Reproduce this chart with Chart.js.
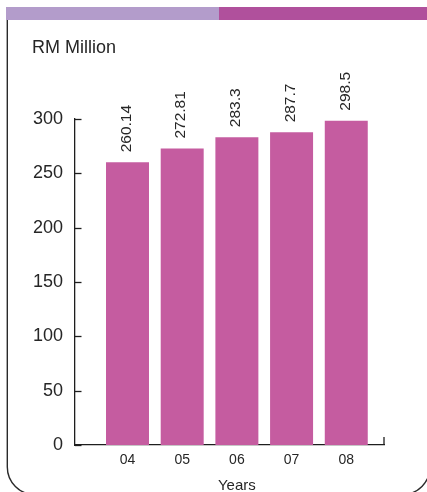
<!DOCTYPE html>
<html>
<head>
<meta charset="utf-8">
<script src="https://cdn.jsdelivr.net/npm/chart.js@4/dist/chart.umd.min.js"></script>
<style>
html,body{margin:0;padding:0;background:#fff;}
#wrap{position:relative;width:427px;height:492px;}
</style>
</head>
<body>
<div id="wrap"><canvas id="c" width="427" height="492"></canvas></div>
<script>
const years = ['04', '05', '06', '07', '08'];
const revenue = [260.14, 272.81, 283.3, 287.7, 298.5];
const valueLabels = ['260.14', '272.81', '283.3', '287.7', '298.5'];
const yTicks = [0, 50, 100, 150, 200, 250, 300];
const unitLabel = 'RM Million';
const xTitle = 'Years';

const TEXT = '#262626';
const AXIS = '#1e1e1e';
const FONT = '"Liberation Sans", Arial, Helvetica, sans-serif';

const decor = {
  id: 'decor',
  beforeDraw(chart) {
    const ctx = chart.ctx;
    ctx.save();
    ctx.fillStyle = '#b39ccb';
    ctx.fillRect(6, 7, 213, 13);
    ctx.fillStyle = '#b0509c';
    ctx.fillRect(219, 7, 208, 13);
    ctx.strokeStyle = '#2a2a2a';
    ctx.lineWidth = 1.4;
    const L = 7.3, T = 20, R = 430, B = 494.5, r = 27.5;
    ctx.beginPath();
    ctx.moveTo(L, T);
    ctx.lineTo(L, B - r);
    ctx.arcTo(L, B, L + r, B, r);
    ctx.lineTo(R - r, B);
    ctx.arcTo(R, B, R, B - r, r);
    ctx.lineTo(R, T);
    ctx.stroke();
    ctx.fillStyle = TEXT;
    ctx.font = '18px ' + FONT;
    ctx.textAlign = 'left';
    ctx.textBaseline = 'alphabetic';
    ctx.fillText(unitLabel, 32, 53);
    ctx.restore();
  },
  afterDraw(chart) {
    const ctx = chart.ctx;
    const xs = chart.scales.x, ys = chart.scales.y;
    const area = chart.chartArea;
    ctx.save();
    ctx.strokeStyle = AXIS;
    ctx.lineWidth = 1.3;
    ys.ticks.forEach(t => {
      const py = Math.round(ys.getPixelForValue(t.value)) + 0.5;
      ctx.beginPath();
      ctx.moveTo(area.left, py);
      ctx.lineTo(area.left + 6.5, py);
      ctx.stroke();
    });
    ctx.beginPath();
    ctx.moveTo(area.right, area.bottom);
    ctx.lineTo(area.right, area.bottom - 8);
    ctx.stroke();
    const meta = chart.getDatasetMeta(0);
    ctx.fillStyle = TEXT;
    ctx.font = '15.5px ' + FONT;
    ctx.textAlign = 'left';
    ctx.textBaseline = 'middle';
    meta.data.forEach((bar, i) => {
      ctx.save();
      ctx.translate(bar.x - 1, bar.y - 10);
      ctx.rotate(-Math.PI / 2);
      ctx.fillText(valueLabels[i], 0, 0);
      ctx.restore();
    });
    const cx = (xs.getPixelForValue(0) + xs.getPixelForValue(years.length - 1)) / 2;
    ctx.font = '15px ' + FONT;
    ctx.textAlign = 'center';
    ctx.textBaseline = 'alphabetic';
    ctx.fillText(xTitle, cx, 490);
    ctx.restore();
  }
};

new Chart(document.getElementById('c'), {
  type: 'bar',
  data: {
    datasets: [{
      data: years.map((y, i) => ({ x: i, y: revenue[i] })),
      backgroundColor: '#c55ca0',
      borderWidth: 0,
      barPercentage: 0.786,
      categoryPercentage: 1
    }]
  },
  options: {
    responsive: false,
    animation: false,
    devicePixelRatio: 1,
    layout: { padding: { left: 0, right: 43, top: 119, bottom: 0 } },
    plugins: { legend: { display: false }, tooltip: { enabled: false } },
    scales: {
      x: {
        type: 'linear',
        offset: false,
        min: -0.96,
        max: 4.69,
        grid: { display: false, drawTicks: false, offset: false },
        border: { display: true, color: AXIS, width: 1.3 },
        afterBuildTicks(s) { s.ticks = years.map((y, i) => ({ value: i })); },
        afterFit(s) { s.height = 47; },
        ticks: {
          autoSkip: false,
          maxRotation: 0,
          padding: 7,
          color: TEXT,
          font: { family: FONT, size: 14 },
          callback: (v) => years[v]
        }
      },
      y: {
        min: 0,
        max: 300,
        grid: { display: false, drawTicks: false },
        border: { display: true, color: AXIS, width: 1.3 },
        afterBuildTicks(s) { s.ticks = yTicks.map(v => ({ value: v })); },
        afterFit(s) { s.width = 75; },
        ticks: {
          padding: 12,
          color: TEXT,
          font: { family: FONT, size: 18 }
        }
      }
    }
  },
  plugins: [decor]
});
</script>
</body>
</html>
